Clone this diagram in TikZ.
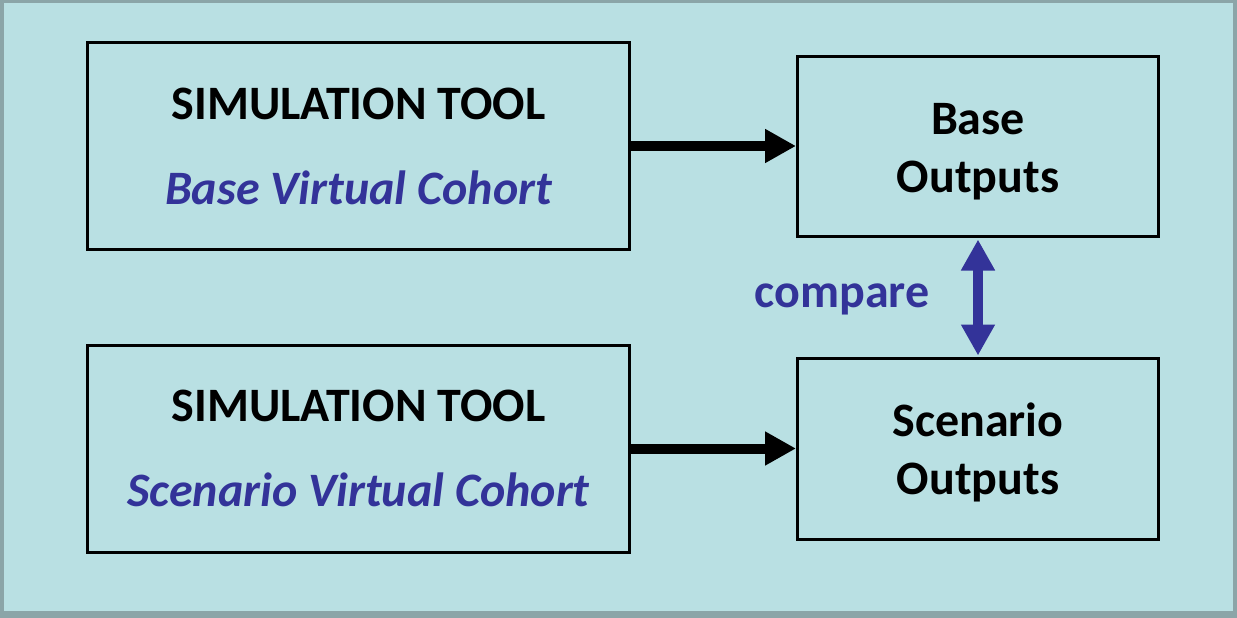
\documentclass[tikz,border=0pt]{standalone}
\usepackage{fontspec}
\setmainfont{Carlito}
\usetikzlibrary{arrows.meta}
\definecolor{bg}{HTML}{B9E0E3}
\definecolor{frameclr}{HTML}{8BA5A8}
\definecolor{cblue}{HTML}{333399}
\begin{document}
\begin{tikzpicture}[x=1pt,y=-1pt,
  box/.style={draw=black,line width=3pt,rectangle,inner sep=0pt},
  txt/.style={font=\fontsize{48}{56}\selectfont\bfseries,anchor=base,inner sep=0pt},
  itxt/.style={txt,font=\fontsize{48}{56}\selectfont\bfseries\itshape,text=cblue},
  blackarrow/.style={line width=10pt,-{Triangle[length=31pt,width=32pt]}},
  bluearrow/.style={draw=cblue,line width=10pt,{Triangle[length=31pt,width=32pt]}-{Triangle[length=31pt,width=32pt]},fill=cblue}]
\fill[frameclr] (0,0) rectangle (1237,618);
\fill[bg] (4,3) rectangle (1233,611);
\useasboundingbox (0,0) rectangle (1237,618);
\node[box,minimum width=542pt,minimum height=207pt] (sim1) at (358.5,146) {};
\node[box,minimum width=361pt,minimum height=180pt] (out1) at (978,146.5) {};
\node[box,minimum width=542pt,minimum height=207pt] (sim2) at (358.5,448.5) {};
\node[box,minimum width=361pt,minimum height=181pt] (out2) at (978,449) {};
\node[txt] (s1) at (358.5,119) {SIMULATION TOOL};
\node[itxt] (c1) at (358.5,204) {Base Virtual Cohort};
\node[txt] (s2) at (358.5,421) {SIMULATION TOOL};
\node[itxt] (c2) at (358.5,506) {Scenario Virtual Cohort};
\node[txt] (b1) at (978,134) {Base};
\node[txt] (b2) at (978,192) {Outputs};
\node[txt] (sc1) at (978,436) {Scenario};
\node[txt] (sc2) at (978,494) {Outputs};
\node[txt,text=cblue] (cmp) at (842,307) {compare};
\draw[blackarrow] (sim1.east) -- (out1.west |- sim1.east);
\draw[blackarrow] (sim2.east) -- (out2.west |- sim2.east);
\draw[bluearrow] ([yshift=-1.5pt]out1.south) -- ([yshift=1.5pt]out2.north);
\end{tikzpicture}
\end{document}
